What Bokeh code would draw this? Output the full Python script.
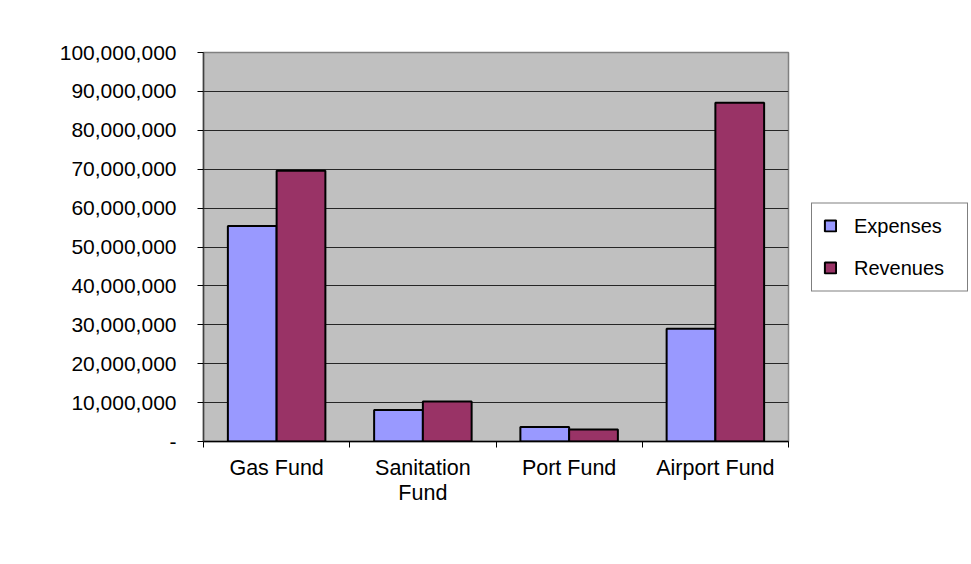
from bokeh.plotting import figure
from bokeh.models import FixedTicker, NumeralTickFormatter, Legend, LegendItem, Range1d
from bokeh.embed import file_html
from bokeh.resources import INLINE

categories = ["Gas Fund", "Sanitation\nFund", "Port Fund", "Airport Fund"]
expenses = [55_400_000, 8_100_000, 3_700_000, 29_000_000]
revenues = [69_600_000, 10_300_000, 3_100_000, 87_100_000]
y_ticks = [0, 10_000_000, 20_000_000, 30_000_000, 40_000_000, 50_000_000,
           60_000_000, 70_000_000, 80_000_000, 90_000_000, 100_000_000]

FONT = "Liberation Sans"
bar_w = 1 / 3

p = figure(width=955, height=548, output_backend="svg", toolbar_location=None,
           x_range=Range1d(0, len(categories)), y_range=Range1d(0, 100_000_000),
           frame_width=585, frame_height=389)
p.min_border_left = 203
p.min_border_top = 52
p.min_border_right = 167
p.min_border_bottom = 107
p.background_fill_color = "#C0C0C0"
p.border_fill_color = "white"
p.outline_line_color = "#808080"
p.outline_line_width = 1.5

centers = [i + 0.5 for i in range(len(categories))]
r1 = p.vbar(x=[c - bar_w / 2 for c in centers], top=expenses, width=bar_w,
            fill_color="#9999FF", line_color="black", line_width=2)
r2 = p.vbar(x=[c + bar_w / 2 for c in centers], top=revenues, width=bar_w,
            fill_color="#993366", line_color="black", line_width=2)

# x axis
xa = p.xaxis[0]
xa.ticker = FixedTicker(ticks=centers, minor_ticks=list(range(len(categories) + 1)))
xa.major_label_overrides = {c: lab for c, lab in zip(centers, categories)}
xa.major_tick_out = 0
xa.major_tick_in = 0
xa.minor_tick_out = 6
xa.minor_tick_in = 0
xa.minor_tick_line_color = "black"
xa.axis_line_color = "black"
xa.axis_line_width = 1.5
xa.major_label_text_font = FONT
xa.major_label_text_font_size = "21.5px"
xa.major_label_text_color = "black"
xa.major_label_text_line_height = 1.08
xa.major_label_standoff = 8

# y axis
ya = p.yaxis[0]
ya.ticker = FixedTicker(ticks=y_ticks, minor_ticks=[])
ya.formatter = NumeralTickFormatter(format="0,0")
ya.major_label_overrides = {0: "-"}
ya.major_tick_out = 6
ya.major_tick_in = 0
ya.major_tick_line_color = "black"
ya.axis_line_color = "#404040"
ya.axis_line_width = 1.5
ya.major_label_text_font = FONT
ya.major_label_text_font_size = "21px"
ya.major_label_text_color = "black"
ya.major_label_standoff = 21

p.xgrid.visible = False
p.ygrid.ticker = FixedTicker(ticks=y_ticks)
p.ygrid.grid_line_color = "#262626"
p.ygrid.grid_line_width = 1

legend = Legend(items=[LegendItem(label="Expenses", renderers=[r1]),
                       LegendItem(label="Revenues", renderers=[r2])],
                location="center_left")
legend.label_text_font = FONT
legend.label_text_font_size = "20px"
legend.label_text_color = "black"
legend.padding = 11
legend.spacing = 19
legend.glyph_width = 14
legend.glyph_height = 14
legend.label_height = 14
legend.label_width = 102
legend.label_standoff = 17
legend.border_line_color = "black"
legend.border_line_width = 1
legend.background_fill_color = "white"
legend.background_fill_alpha = 1
legend.margin = 23
p.add_layout(legend, "right")

open("out.html", "w").write(file_html(p, INLINE))
